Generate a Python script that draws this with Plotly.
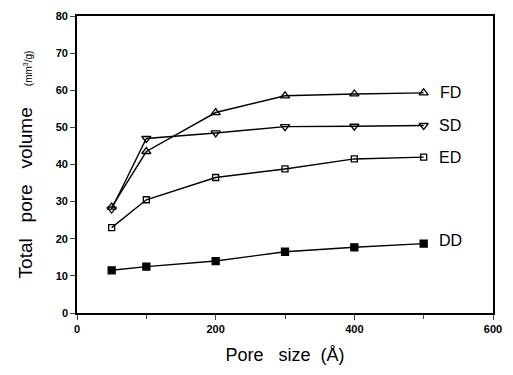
import plotly.graph_objects as go

pore_size = [50, 100, 200, 300, 400, 500]
fd = [28.5, 43.5, 54.0, 58.5, 59.0, 59.3]
sd = [28.0, 47.0, 48.5, 50.2, 50.3, 50.5]
ed = [23.0, 30.5, 36.5, 38.8, 41.5, 42.0]
dd = [11.5, 12.5, 14.0, 16.5, 17.7, 18.7]
series_names = ["FD", "SD", "ED", "DD"]
label_y = [59.5, 50.5, 42.0, 19.5]
label_x = 538

fig = go.Figure()
styles = [
    (fd, "triangle-up-open", 8),
    (sd, "triangle-down-open", 8),
    (ed, "square-open", 6),
    (dd, "square", 7),
]
for (vals, sym, sz), name in zip(styles, series_names):
    fig.add_trace(go.Scatter(
        x=pore_size, y=vals, mode="lines+markers", name=name,
        line=dict(color="black", width=1.4),
        marker=dict(symbol=sym, size=sz, color="black",
                    line=dict(color="black", width=1.3)),
        showlegend=False,
    ))

for name, yv in zip(series_names, label_y):
    fig.add_annotation(x=label_x, y=yv, text=name, showarrow=False,
                       font=dict(family="Liberation Sans", size=16, color="black"))

fig.update_layout(
    width=513, height=375,
    margin=dict(l=77, r=20, t=10, b=62),
    paper_bgcolor="white", plot_bgcolor="white",
    font=dict(family="Liberation Sans", color="black"),
)
fig.update_xaxes(
    range=[0, 600], tickvals=[0, 200, 400, 600],
    ticks="outside", ticklen=5, tickwidth=1.4,
    minor=dict(tickvals=[100, 300, 500], ticks="outside", ticklen=4, tickwidth=1.2),
    showline=True, linecolor="black", linewidth=1.6, mirror=True,
    showgrid=False, zeroline=False,
    tickfont=dict(family="Liberation Sans", size=11, weight="bold"),
    title=dict(text="Pore&nbsp;&nbsp;&nbsp;size&nbsp;&nbsp;(Å)",
               font=dict(family="Liberation Sans", size=18), standoff=14),
)
fig.update_yaxes(
    range=[0, 80], tickvals=list(range(0, 81, 10)),
    ticks="outside", ticklen=5, tickwidth=1.4,
    showline=True, linecolor="black", linewidth=1.6, mirror=True,
    showgrid=False, zeroline=False,
    tickfont=dict(family="Liberation Sans", size=11, weight="bold"),
    title=dict(text="Total&nbsp;&nbsp;&nbsp;pore&nbsp;&nbsp;&nbsp;volume&nbsp;&nbsp;&nbsp;&nbsp;<span style='font-size:10px'>(mm<sup>3</sup>/g)</span>",
               font=dict(family="Liberation Sans", size=19), standoff=18),
)
fig.write_html("out.html")
